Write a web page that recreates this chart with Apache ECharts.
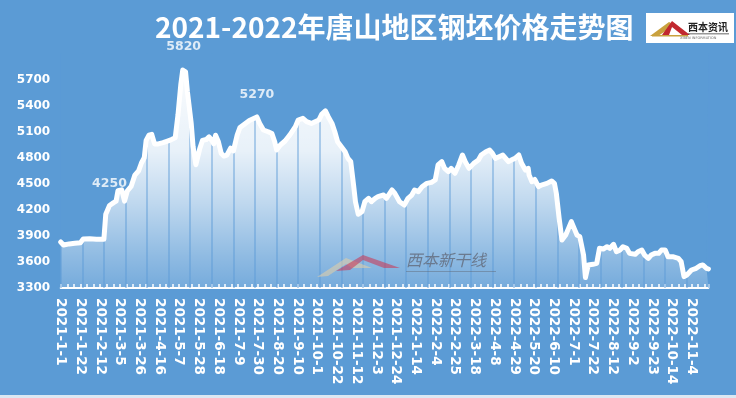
<!DOCTYPE html>
<html><head><meta charset="utf-8">
<script src="https://cdn.jsdelivr.net/npm/echarts@6/dist/echarts.min.js"></script>
<style>html,body{margin:0;padding:0;background:#5b9bd5}#c{width:736px;height:398px}</style>
</head><body><div id="c"></div>
<script>
// ---- data (day offset from 2021-1-1, price in 元/吨) ----
const startYear = 2021;
const titleText = '2021-2022年唐山地区钢坯价格走势图';
const days = [0,3,9,15,21,24,26,31,38,46,48,52,56,59,61,65,68,71,75,79,83,86,89,91,94,97,100,104,109,113,118,122,125,128,130,131,133,135,137,139,141,144,146,148,151,155,158,161,163,165,168,171,174,177,181,184,188,191,196,201,205,209,212,216,221,225,228,230,234,239,244,250,253,258,262,267,271,275,278,282,285,289,292,295,299,303,306,309,312,314,317,321,324,328,331,335,338,344,347,353,356,361,366,370,374,377,381,385,390,395,399,402,406,409,413,416,420,424,428,431,435,440,445,448,453,457,460,463,467,471,474,477,480,484,488,491,495,498,499,502,505,509,512,518,523,526,528,531,534,538,541,544,547,550,553,557,559,562,567,571,574,578,582,585,589,592,596,599,603,606,612,615,619,622,626,629,633,637,640,644,647,652,658,661,664,667,672,677,681,684,688,690];
const values = [3830,3795,3808,3815,3822,3865,3880,3866,3862,3862,4150,4250,4280,4300,4420,4430,4300,4420,4470,4600,4650,4740,4800,5000,5060,5070,4960,4960,4975,4990,5010,5030,5300,5650,5810,5820,5790,5560,5540,5200,4930,4720,4740,4900,5000,5010,5040,5000,4960,5060,4985,4850,4820,4830,4910,4880,5060,5150,5190,5230,5250,5270,5196,5120,5100,5080,4985,4890,4947,4993,5062,5158,5235,5254,5216,5196,5216,5235,5300,5340,5273,5196,5100,4985,4928,4870,4793,4755,4486,4294,4150,4179,4294,4333,4294,4333,4352,4371,4333,4429,4390,4294,4256,4333,4371,4429,4410,4467,4505,4517,4544,4717,4755,4678,4640,4678,4621,4717,4832,4755,4678,4736,4774,4832,4870,4889,4851,4793,4813,4832,4793,4755,4774,4793,4832,4736,4659,4678,4601,4525,4550,4467,4486,4505,4532,4505,4390,4102,3853,3910,3987,4064,3987,3910,3891,3680,3420,3565,3573,3584,3757,3749,3776,3757,3803,3718,3738,3776,3757,3699,3688,3718,3738,3680,3642,3680,3699,3699,3738,3738,3661,3661,3642,3603,3431,3450,3507,3527,3557,3565,3527,3519];
const labelledDays = [52, 131, 209];
const yMin = 3300, yMax = 6000, yStep = 300;
const xMax = 690, xLabelStep = 21, xGridStep = 23;

const BG = '#5b9bd5';
const pts = days.map((d, i) => [d, values[i]]);
const labelPts = labelledDays.map(d => [d, values[days.indexOf(d)]]);

function dayLabel(d) {
  const t = new Date(Date.UTC(startYear, 0, 1) + d * 86400000);
  return t.getUTCFullYear() + '-' + (t.getUTCMonth() + 1) + '-' + t.getUTCDate();
}

const chart = echarts.init(document.getElementById('c'), null, {renderer: 'canvas'});
chart.setOption({
  backgroundColor: BG,
  animation: false,
  title: {
    text: titleText, left: 150, top: 8,
    textStyle: {color: '#fff', fontSize: 28, fontWeight: 'bold', fontFamily: 'Noto Sans CJK SC'}
  },
  grid: {left: 60.7, right: 27.6, top: 53.6, bottom: 110},
  xAxis: [{
    type: 'value', min: 0, max: xMax, interval: xLabelStep,
    axisLine: {show: true, lineStyle: {color: '#fff', width: 2}},
    axisTick: {show: true, inside: true, length: 4, lineStyle: {color: '#fff', width: 1.5}},
    minorTick: {show: true, splitNumber: 3, length: 4, lineStyle: {color: '#fff', width: 1.5}},
    splitLine: {show: false},
    axisLabel: {
      rotate: -90, margin: 10, showMaxLabel: false, color: '#fff',
      fontFamily: 'DejaVu Sans', fontWeight: 'bold', fontSize: 13.5,
      formatter: v => dayLabel(v)
    }
  }, {
    type: 'value', min: 0, max: xMax, interval: xGridStep, position: 'bottom', z: 3,
    axisLine: {show: false}, axisTick: {show: false}, axisLabel: {show: false},
    splitLine: {show: true, lineStyle: {color: 'rgba(91,155,213,0.6)', width: 1.5}}
  }],
  yAxis: {
    type: 'value', min: yMin, max: yMax, interval: yStep,
    axisLine: {show: false}, axisTick: {show: false}, splitLine: {show: false},
    axisLabel: {showMaxLabel: false, margin: 10.5, color: '#fff', fontFamily: 'DejaVu Sans', fontWeight: 'bold', fontSize: 12,
      formatter: v => String(v)}
  },
  series: [{
    type: 'line', xAxisIndex: 0, data: pts, symbol: 'none', z: 2,
    lineStyle: {width: 0, opacity: 0},
    areaStyle: {
      opacity: 1,
      color: {type: 'linear', x: 0, y: 60, x2: 0, y2: 288, global: true, colorStops: [
        {offset: 0, color: 'rgba(255,255,255,0.98)'},
        {offset: 0.4, color: 'rgba(255,255,255,0.86)'},
        {offset: 0.62, color: 'rgba(255,255,255,0.62)'},
        {offset: 0.86, color: 'rgba(255,255,255,0.32)'},
        {offset: 1, color: 'rgba(255,255,255,0.16)'}
      ]}
    }
  }, {
    type: 'line', xAxisIndex: 0, data: pts, symbol: 'none', z: 4,
    lineStyle: {width: 0, opacity: 0},
    areaStyle: {color: BG, opacity: 1, origin: 'end'}
  }, {
    type: 'line', xAxisIndex: 0, data: pts, symbol: 'none', z: 5,
    lineStyle: {color: '#fff', width: 5, join: 'round', cap: 'round'}
  }, {
    type: 'scatter', xAxisIndex: 0, data: labelPts, symbolSize: 1, z: 6,
    itemStyle: {color: 'rgba(0,0,0,0)'},
    label: {show: true, position: 'top', distance: 15, color: '#fff', fontFamily: 'DejaVu Sans', fontWeight: 'bold', fontSize: 12.5,
      formatter: p => String(p.value[1])}
  }],
  graphic: [
    {type: 'rect', shape: {x: 646, y: 13, width: 88, height: 30}, style: {fill: '#fff'}, z: 10},
    {type: 'polygon', shape: {points: [[650,36],[669,22],[675,25],[658,36]]}, style: {fill: '#c9a13e'}, z: 11},
    {type: 'polygon', shape: {points: [[662,35],[672,21],[690,35],[682,35],[672,27],[669,35]]}, style: {fill: '#c1282f'}, z: 11},
    {type: 'rect', shape: {x: 652, y: 35, width: 36, height: 1.5}, style: {fill: '#c9a13e'}, z: 11},
    {type: 'text', x: 688, y: 22, style: {text: '西本资讯', fill: '#222', font: 'bold 10px "Noto Sans CJK SC"'}, z: 11},
    {type: 'rect', shape: {x: 688, y: 33.5, width: 41, height: 0.8}, style: {fill: '#333'}, z: 11},
    {type: 'text', x: 680, y: 36, style: {text: 'XIBEN INFORMATION', fill: '#666', font: '3.5px "DejaVu Sans"'}, z: 11},
    {type: 'polygon', shape: {points: [[317,277],[346,258],[372,268],[352,268],[346,264],[328,276]]}, style: {fill: 'rgba(222,205,170,0.6)'}, z: 7},
    {type: 'polygon', shape: {points: [[336,271],[363,255],[400,268],[384,268],[363,260],[350,270]]}, style: {fill: 'rgba(200,60,90,0.6)'}, z: 7},
    {type: 'text', x: 406, y: 252, style: {text: '西本新干线', fill: 'rgba(95,100,115,0.75)', font: 'italic 16px "Noto Sans CJK SC"'}, z: 7},
    {type: 'rect', shape: {x: 406, y: 271, width: 90, height: 0.8}, style: {fill: 'rgba(95,100,115,0.6)'}, z: 7},
    {type: 'rect', shape: {x: 0, y: 395, width: 736, height: 3}, style: {fill: '#dce8f3'}, z: 10}
  ]
});
</script>
</body></html>
